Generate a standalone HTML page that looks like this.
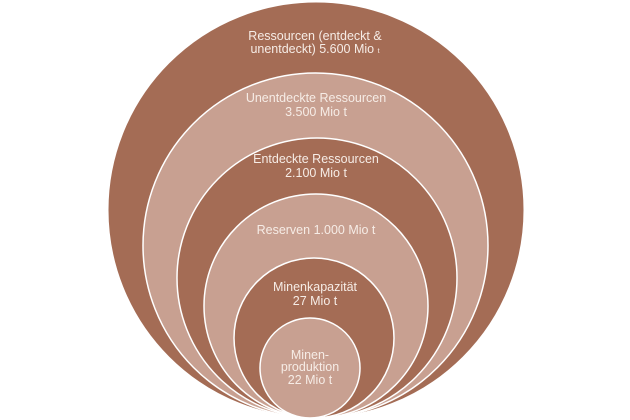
<!DOCTYPE html>
<html><head><style>
html,body{margin:0;padding:0;background:#fff;}
svg{display:block}
text{font-family:"Liberation Sans",sans-serif;font-size:12.5px;fill:#f6ece6;text-anchor:middle;}
</style></head><body>
<svg width="630" height="420" viewBox="0 0 630 420">
<circle cx="316" cy="210" r="208" fill="#a46c55" stroke="#fff" stroke-width="1"/>
<circle cx="315.5" cy="245.5" r="172.5" fill="#c8a091" stroke="#fff" stroke-width="1.5"/>
<circle cx="317" cy="278" r="140" fill="#a46c55" stroke="#fff" stroke-width="1.5"/>
<circle cx="316" cy="306" r="112" fill="#c8a091" stroke="#fff" stroke-width="1.5"/>
<circle cx="314" cy="338" r="80" fill="#a46c55" stroke="#fff" stroke-width="1.5"/>
<circle cx="310" cy="368" r="50" fill="#c8a091" stroke="#fff" stroke-width="1.5"/>
<text x="315" y="40">Ressourcen (entdeckt &amp;</text>
<text x="315" y="53">unentdeckt) 5.600 Mio <tspan font-size="7">t</tspan></text>
<text x="316" y="102">Unentdeckte Ressourcen</text>
<text x="316" y="116">3.500 Mio t</text>
<text x="316" y="163">Entdeckte Ressourcen</text>
<text x="316" y="177">2.100 Mio t</text>
<text x="316" y="234">Reserven 1.000 Mio t</text>
<text x="315" y="291">Minenkapazität</text>
<text x="315" y="305">27 Mio t</text>
<text x="310" y="359">Minen-</text>
<text x="310" y="371">produktion</text>
<text x="310" y="384">22 Mio t</text>
</svg>
</body></html>
